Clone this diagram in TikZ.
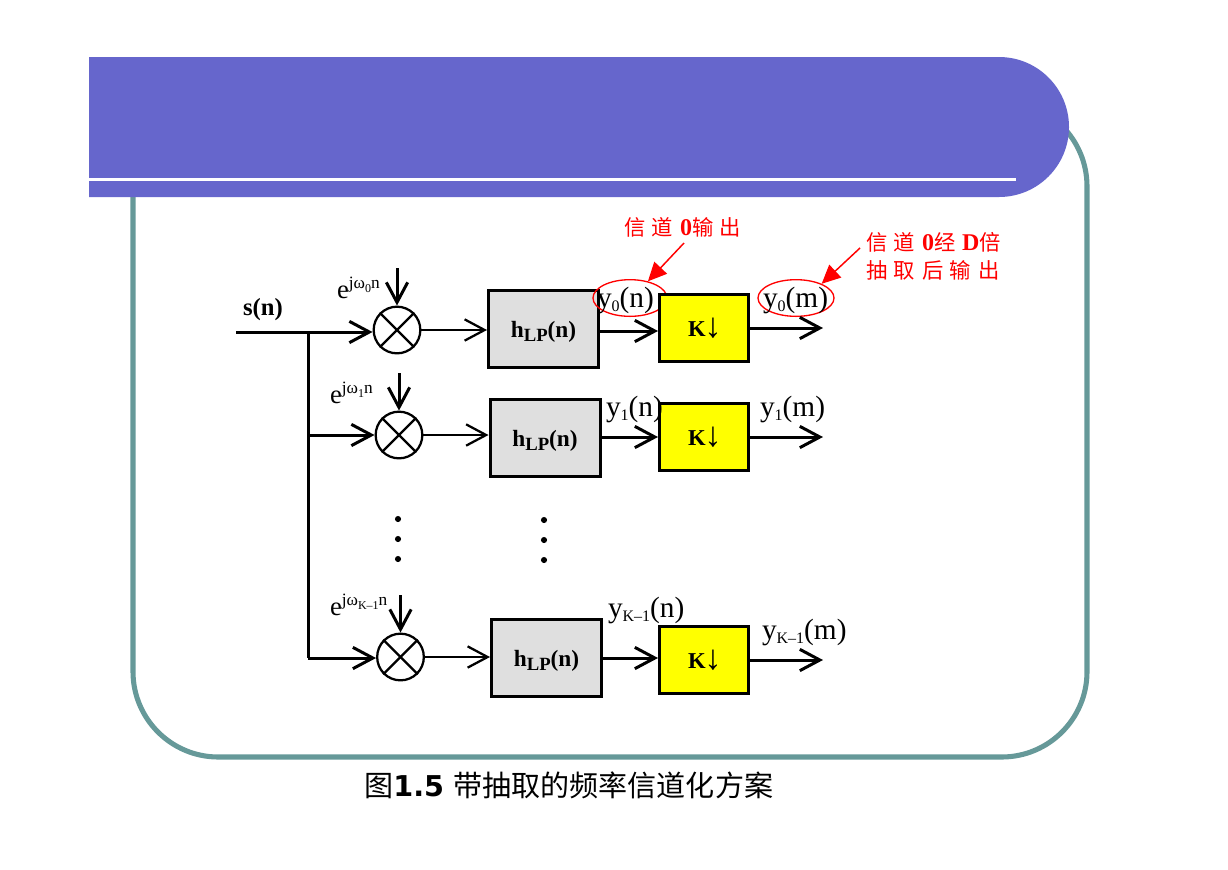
\documentclass[tikz,border=0pt]{standalone}
\usepackage{fontspec}
\setmainfont{Liberation Serif}
\newfontfamily\cjk{Noto Sans CJK SC}
\newfontfamily\capfont{DejaVu Sans}
\usetikzlibrary{arrows.meta,shapes.geometric}
\definecolor{hdr}{HTML}{6666CC}
\definecolor{frm}{HTML}{669999}
\definecolor{gbox}{HTML}{DFDFDF}
\definecolor{ybox}{HTML}{FFFF00}
\definecolor{rd}{HTML}{FF0000}
\newcommand{\fs}[1]{\fontsize{#1}{#1}\selectfont}
\newcommand{\yy}[2]{{\fs{22}y\raisebox{-3.5pt}{\fs{12}#1}(#2)}}
\newcommand{\ee}[1]{{\fs{20}e\raisebox{7pt}{\fs{13}jω\raisebox{-2.5pt}{\fs{9}#1}n}}}
\newcommand{\hlp}{\smash{\raisebox{-6pt}{\fs{17.5}\bfseries h\raisebox{-3pt}{\fs{14}LP}(n)}}}
\newcommand{\kd}{\smash{\raisebox{-6.7pt}{\hspace{1.5pt}\fs{17}\bfseries K\hspace{-1pt}\raisebox{-0.5pt}{\fs{26}↓}}}}
\newcommand{\gp}{\hspace{5pt}}
\newcommand{\rb}[1]{{\bfseries\fontsize{18}{21}\selectfont #1}}
\tikzset{
 x=0.75pt,y=-0.75pt,
 lbl/.style={inner sep=0pt,outer sep=0pt,anchor=base west},
 hbox/.style={draw,line width=2.25pt,fill=gbox,minimum width=82.5pt,minimum height=57.5pt,inner sep=0pt},
 kbox/.style={draw,line width=2.25pt,fill=ybox,minimum width=66.75pt,minimum height=50.5pt,inner sep=0pt},
 mix/.style={circle,draw,line width=1.7pt,fill=white,minimum size=35pt,inner sep=0pt},
 wire/.style={line width=2.25pt},
 thin wire/.style={line width=1.7pt},
 barb/.style={-{Straight Barb[length=15pt,width=16pt,line width=2.25pt]}},
 thin barb/.style={-{Straight Barb[length=15pt,width=16pt,line width=1.7pt]}},
 redring/.style={ellipse,draw=rd,line width=1pt,inner sep=0pt},
 redarrow/.style={draw=rd,line width=1.1pt,-{Triangle[length=14pt,width=13pt,fill=rd]}},
 redtext/.style={text=rd,inner sep=0pt,outer sep=0pt,align=left,font=\fontsize{16}{21}\selectfont},
 dotmark/.style={circle,fill=black,inner sep=0pt,minimum size=4.6pt},
}
\begin{document}
\begin{tikzpicture}
\useasboundingbox (0,0) rectangle (1228,869);
% frame and header
\draw[frm,line width=3.8pt,rounded corners=64pt] (133,101) rectangle (1087,757);
\fill[hdr] (89,57) -- (999,57) arc[start angle=90,end angle=-90,radius=52.5pt] -- (89,197) -- cycle;
\fill[white] (89,178) rectangle (1016,181);
% boxes
\node[hbox] (h0) at (543.5,329) {\hlp};
\node[hbox] (h1) at (545,438) {\hlp};
\node[hbox] (h2) at (546.5,658) {\hlp};
\node[redring,minimum width=55.5pt,minimum height=27.5pt] (e0) at (630,298) {};
\node[redring,minimum width=57pt,minimum height=27.5pt] (e1) at (796,298) {};
\node[kbox] (k0) at (704,328) {\kd};
\node[kbox] (k1) at (704,437) {\kd};
\node[kbox] (k2) at (704,660) {\kd};
% mixers
\node[mix] (m0) at (397,330) {};
\node[mix] (m1) at (399,435) {};
\node[mix] (m2) at (400.5,657) {};
\foreach \m in {m0,m1,m2}{
 \draw[line width=1.7pt] (\m.45) -- (\m.225);
 \draw[line width=1.7pt] (\m.135) -- (\m.315);
}
% signal tree
\coordinate (src) at (236,332);
\coordinate (j0) at (308,332);
\coordinate (j1) at (308,435);
\coordinate (j2) at (308,658);
\draw[wire] (src) -- (j0);
\draw[wire] (j0) -- (j1) -- (j2);
\draw[wire,barb] (j0) -- (j0 -| m0.west);
\draw[wire,barb] (j1) -- (j1 -| m1.west);
\draw[wire,barb] (j2) -- (j2 -| m2.west);
% local oscillators
\coordinate (o0) at (397,268);
\coordinate (o1) at (399,373);
\coordinate (o2) at (400.5,595);
\draw[wire,barb] (o0) -- (m0.north);
\draw[wire,barb] (o1) -- (m1.north);
\draw[wire,barb] (o2) -- (m2.north);
% mixer to filter
\draw[thin wire,thin barb] (m0.east) -- (m0.east -| h0.west);
\draw[thin wire,thin barb] (m1.east) -- (m1.east -| h1.west);
\draw[thin wire,thin barb] (m2.east) -- (m2.east -| h2.west);
% filter to decimator
\coordinate (t0) at (630,331);
\draw[wire,barb] (t0 -| h0.east) -- (t0 -| k0.west);
\draw[wire,barb] (h1.east |- k1.west) -- (k1.west);
\draw[wire,barb] (h2.east) -- (h2.east -| k2.west);
% outputs
\coordinate (q0) at (823,328);
\coordinate (q1) at (823,437);
\coordinate (q2) at (823,660);
\draw[wire,barb] (k0.east) -- (q0);
\draw[wire,barb] (k1.east) -- (q1);
\draw[wire,barb] (k2.east) -- (q2);
% labels
\node[lbl] (ls) at (243,315) {\fs{18.5}\bfseries s(n)};
\node[lbl] (l0) at (337,298) {\ee{0}};
\node[lbl] (l1) at (330,403) {\ee{1}};
\node[lbl] (l2) at (330,615) {\ee{K–1}};
\node[lbl] (y0n) at (597,307) {\yy{0}{n}};
\node[lbl] (y0m) at (763,307) {\yy{0}{m}};
\node[lbl] (y1n) at (606,416) {\yy{1}{n}};
\node[lbl] (y1m) at (760,416) {\yy{1}{m}};
\node[lbl] (y2n) at (608,617) {\yy{K–1}{n}};
\node[lbl] (y2m) at (762,639) {\yy{K–1}{m}};
% dots
\node[dotmark] (d1) at (398,519) {};
\node[dotmark] (d2) at (398,539) {};
\node[dotmark] (d3) at (398,559) {};
\node[dotmark] (d4) at (544,520) {};
\node[dotmark] (d5) at (544,540) {};
\node[dotmark] (d6) at (544,560) {};
% red notes
\node[redtext,anchor=west] (n0) at (624,227) {{\cjk 信}\gp{\cjk 道}\gp\rb{0}{\cjk 输}\gp{\cjk 出}};
\node[redtext,anchor=west] (n1) at (866,256) {{\cjk 信}\gp{\cjk 道}\gp\rb{0}{\cjk 经}\gp\rb{D}{\cjk 倍}\\{\cjk 抽}\gp{\cjk 取}\gp{\cjk 后}\gp{\cjk 输}\gp{\cjk 出}};
\coordinate (a0) at (684,243);
\coordinate (a1) at (860,248);
\draw[redarrow] (a0) -- (e0.43);
\draw[redarrow] (a1) -- (e1.29);
% caption
\node[anchor=base west,inner sep=0pt] (cap) at (364,796) {\fs{21.8}{\cjk 图}{\capfont\bfseries\fs{21.5}1.5}\hspace{7pt}{\cjk 带抽取的频率信道化方案}};
\end{tikzpicture}
\end{document}
